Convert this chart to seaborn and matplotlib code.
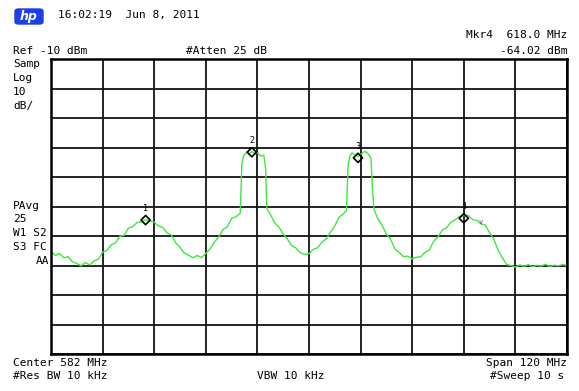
import matplotlib
matplotlib.use("Agg")
import matplotlib.pyplot as plt
from matplotlib.patches import FancyBboxPatch
import seaborn as sns
import pandas as pd

# trace (MHz, dBm)
freq_mhz = [522, 523, 524, 525, 526, 527, 528, 529, 530, 531, 532, 533, 534, 535,
            536, 537, 538, 539, 540, 541, 542, 543, 544, 545, 546, 547, 548, 549,
            550, 551, 552, 553, 554, 555, 556, 557, 558, 559, 560, 561, 562, 563,
            564, 565, 566, 566.4, 566.8, 567.5, 568, 568.7, 569.5, 570, 570.8,
            571.5, 571.9, 572.2, 573, 574, 575, 576, 577, 578, 579, 580, 581, 582,
            583, 584, 585, 586, 587, 588, 589, 590, 590.7, 591.1, 591.5, 592,
            592.8, 593.5, 594.2, 595, 595.8, 596.4, 596.8, 597.1, 598, 599, 600,
            601, 602, 603, 604, 605, 606, 607, 608, 609, 610, 611, 612, 613, 614,
            615, 616, 617, 618, 619, 620, 621, 622, 623, 624, 625, 626, 627, 628,
            629, 630, 631, 632, 633, 634, 635, 636, 637, 638, 639, 640, 641, 642]
level_dbm = [-75.2, -76.6, -75.9, -77.4, -77.0, -78.8, -79.3, -80.1, -79.0, -79.8,
             -78.4, -77.9, -75.5, -74.9, -73.0, -72.4, -70.1, -69.8, -67.3, -66.9,
             -65.4, -65.2, -64.5, -64.9, -65.3, -66.6, -67.1, -69.0, -69.7, -72.3,
             -73.8, -75.8, -76.5, -77.4, -76.6, -77.3, -75.9, -74.4, -72.1, -70.3,
             -67.8, -66.9, -64.0, -63.5, -62.3, -45.5, -42.8, -41.6, -42.3, -41.4,
             -42.0, -41.7, -42.9, -42.6, -47.0, -60.8, -62.6, -65.5, -67.0, -69.3,
             -71.1, -73.3, -74.1, -75.7, -76.2, -76.0, -74.5, -74.0, -72.1, -71.0,
             -68.7, -66.6, -63.6, -62.5, -61.4, -46.0, -42.9, -41.8, -42.7, -43.0,
             -42.1, -41.3, -42.2, -43.5, -55.0, -60.9, -64.1, -66.4, -69.3, -71.2,
             -74.4, -75.6, -77.0, -76.8, -77.8, -77.2, -77.0, -75.5, -74.7, -71.8,
             -70.3, -68.0, -67.2, -65.3, -64.5, -63.4, -63.1, -63.0, -64.4, -64.7,
             -65.9, -66.3, -68.9, -71.1, -74.9, -77.5, -79.7, -80.0, -80.6, -79.8,
             -80.3, -79.7, -80.4, -79.9, -80.2, -79.6, -80.3, -79.9, -80.1, -79.7,
             -80.0]

marker_names = ["1", "2", "3", "4"]
marker_freq = [544.0, 568.7, 593.4, 618.0]
marker_level = [-64.6, -41.6, -43.5, -64.0]

W, H = 579, 391


def px(x, y):
    return x / W, 1 - y / H


sns.set_style("white")
plt.rcParams["font.family"] = ["DejaVu Sans Mono"]
plt.rcParams["text.color"] = "black"

fig = plt.figure(figsize=(W / 100, H / 100), dpi=100)
ax = fig.add_axes([51 / W, 1 - 354 / H, 516 / W, 295 / H])

trace = pd.DataFrame({"freq": freq_mhz, "level": level_dbm})
sns.lineplot(data=trace, x="freq", y="level", color="#3ee83e", linewidth=1.0,
             estimator=None, ax=ax)
sns.scatterplot(x=marker_freq, y=marker_level, marker="D", s=22,
                facecolor="none", edgecolor="black", linewidth=1.2, ax=ax, zorder=5)
for name, f, lv in zip(marker_names, marker_freq, marker_level):
    ax.annotate(name, (f, lv), xytext=(0, 5), textcoords="offset points",
                ha="center", va="bottom", fontsize=6, color="black")
ax.annotate("v", (622, -65.2), ha="center", va="center", fontsize=5, color="#555555")

ax.set_xlim(522, 642)
ax.set_ylim(-110, -10)
ax.set_xticks([522 + 12 * i for i in range(11)])
ax.set_yticks([-110 + 10 * i for i in range(11)])
ax.grid(True, color="#141414", linewidth=1.3)
ax.tick_params(length=0, labelbottom=False, labelleft=False)
ax.set_xlabel("")
ax.set_ylabel("")
for s in ax.spines.values():
    s.set_visible(True)
    s.set_color("black")
    s.set_linewidth(1.8)

fs = 8
# header: hp badge
x0, y0 = px(15, 24)
fig.patches.append(FancyBboxPatch((x0, y0), 28 / W, 15 / H,
                                  boxstyle="round,pad=0,rounding_size=0.006",
                                  fc="#1f3fe6", ec="#1f3fe6",
                                  transform=fig.transFigure, figure=fig))
fig.text(*px(29, 16.5), "hp", ha="center", va="center", color="white", fontsize=9,
         fontweight="bold", style="italic", family="DejaVu Sans")
fig.text(*px(58, 15), "16:02:19  Jun 8, 2011", va="center", fontsize=fs)
fig.text(*px(567, 35), "Mkr4  618.0 MHz", ha="right", va="center", fontsize=fs)
fig.text(*px(567, 51), "-64.02 dBm", ha="right", va="center", fontsize=fs)
fig.text(*px(13, 51), "Ref -10 dBm", va="center", fontsize=fs)
fig.text(*px(186, 51), "#Atten 25 dB", va="center", fontsize=fs)

# left side annotations
left_lines = [("Samp", 64), ("Log", 78), ("10", 92), ("dB/", 106),
              ("PAvg", 206), ("25", 219), ("W1 S2", 233), ("S3 FC", 247)]
for txt, y in left_lines:
    fig.text(*px(13, y), txt, va="center", fontsize=fs)
fig.text(*px(49, 261), "AA", ha="right", va="center", fontsize=fs)

# footer
fig.text(*px(13, 363), "Center 582 MHz", va="center", fontsize=fs)
fig.text(*px(13, 376), "#Res BW 10 kHz", va="center", fontsize=fs)
fig.text(*px(257, 376), "VBW 10 kHz", va="center", fontsize=fs)
fig.text(*px(567, 363), "Span 120 MHz", ha="right", va="center", fontsize=fs)
fig.text(*px(564, 376), "#Sweep 10 s", ha="right", va="center", fontsize=fs)

fig.savefig("out.png", dpi=100, facecolor="white")
